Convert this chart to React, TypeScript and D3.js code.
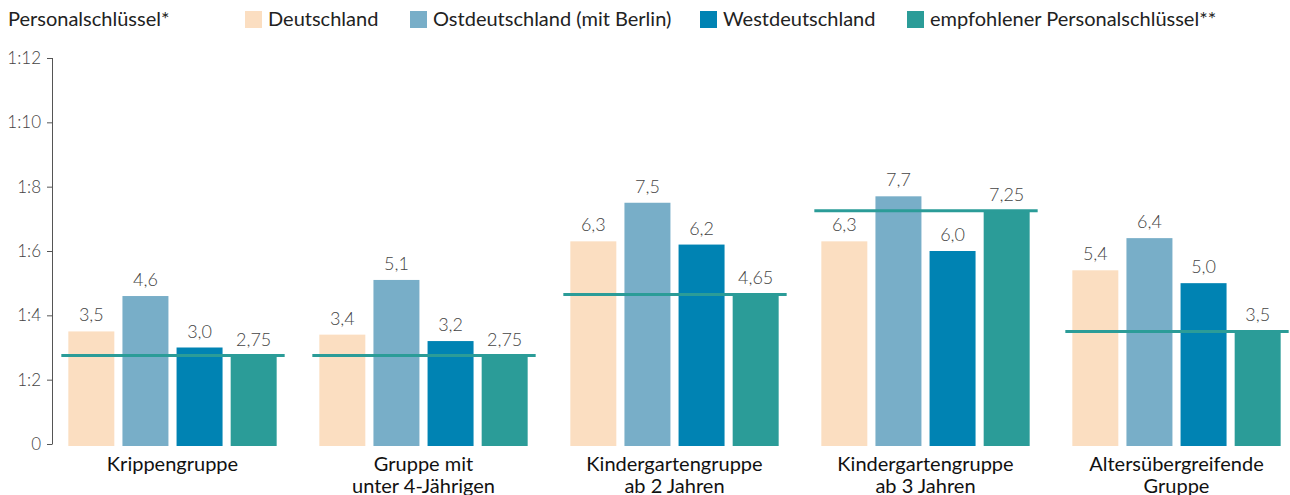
import * as d3 from 'd3'

const categories = [
    'Krippengruppe',
    'Gruppe mit\nunter 4-Jährigen',
    'Kindergartengruppe\nab 2 Jahren',
    'Kindergartengruppe\nab 3 Jahren',
    'Altersübergreifende\nGruppe',
]
const seriesNames = ['Deutschland', 'Ostdeutschland (mit Berlin)', 'Westdeutschland', 'empfohlener Personalschlüssel**']
const deutschland = [3.5, 3.4, 6.3, 6.3, 5.4]
const ostdeutschland = [4.6, 5.1, 7.5, 7.7, 6.4]
const westdeutschland = [3.0, 3.2, 6.2, 6.0, 5.0]
const empfohlen = [2.75, 2.75, 4.65, 7.25, 3.5]
const yTicks = [0, 2, 4, 6, 8, 10, 12]

const colors = ['#fbdec1', '#78aec8', '#0083b3', '#2b9c98']
const font = 'Lato, "Open Sans", sans-serif'

const fmt = (v: number) => {
    const s = Math.round(v * 10) === v * 10 ? d3.format('.1f')(v) : d3.format('.2f')(v)
    return s.replace('.', ',')
}

export default function App() {
    const width = 1290
    const height = 495
    const series = [deutschland, ostdeutschland, westdeutschland, empfohlen]

    const x = d3.scaleBand<string>()
        .domain(categories)
        .range([47, 1302])
        .paddingInner(0.17)
        .paddingOuter(0.085)

    const xInner = d3.scaleBand<number>()
        .domain(d3.range(series.length))
        .range([0, x.bandwidth()])
        .paddingInner(0.15)

    const y = d3.scaleLinear()
        .domain([0, 12])
        .range([444, 58])

    const legendX = [245, 410, 700, 907]

    return (
        <div style={{ position: 'absolute', left: 0, top: 0 }}>
            <svg width={width} height={height} style={{ display: 'block', fontFamily: font }}>
                {/* legend */}
                <text x={8} y={26} fontSize={20} fill='#222'>Personalschlüssel*</text>
                {seriesNames.map((name, i) => (
                    <g key={name}>
                        <rect x={legendX[i]} y={11} width={17} height={17} fill={colors[i]} />
                        <text x={legendX[i] + 23} y={26} fontSize={20} fill='#222'>{name}</text>
                    </g>
                ))}

                {/* y axis */}
                <line x1={52.5} x2={52.5} y1={y(12)} y2={y(0)} stroke='#555' strokeWidth={1} />
                {yTicks.map(t => (
                    <g key={t}>
                        <line x1={47} x2={52.5} y1={y(t) + 0.5} y2={y(t) + 0.5} stroke='#555' />
                        <text x={41} y={y(t) + 6} fontSize={17} fill='#444' textAnchor='end' fontWeight={300}>
                            {t === 0 ? '0' : `1:${t}`}
                        </text>
                    </g>
                ))}

                {/* bars */}
                {categories.map((c, ci) => {
                    const gx = x(c) ?? 0
                    return (
                        <g key={c}>
                            {series.map((s, si) => {
                                const bx = gx + (xInner(si) ?? 0)
                                return (
                                    <g key={si}>
                                        <rect x={bx} y={y(s[ci])} width={xInner.bandwidth()} height={y(0) - y(s[ci]) + 2} fill={colors[si]} />
                                        <text x={bx + xInner.bandwidth() / 2} y={y(s[ci]) - 10} fontSize={18} fill='#444'
                                            fontWeight={300} textAnchor='middle'>{fmt(s[ci])}</text>
                                    </g>
                                )
                            })}
                            <line x1={gx - 7} x2={gx + x.bandwidth() + 8} y1={y(empfohlen[ci])} y2={y(empfohlen[ci])}
                                stroke='#2b9c98' strokeWidth={3} />
                            {c.split('\n').map((line, li) => (
                                <text key={li} x={gx + x.bandwidth() / 2} y={471 + li * 22} fontSize={20} fill='#111'
                                    textAnchor='middle'>{line}</text>
                            ))}
                        </g>
                    )
                })}
            </svg>
        </div>
    )
}
